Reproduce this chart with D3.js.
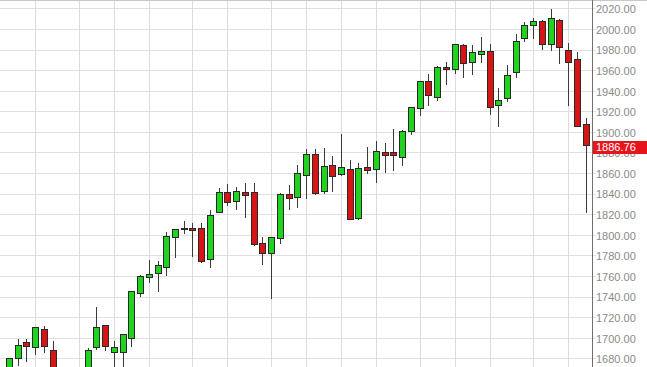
<!DOCTYPE html>
<html>
<head>
<meta charset="utf-8">
<script src="https://cdn.jsdelivr.net/npm/d3@7"></script>
<style>
  html, body { margin: 0; padding: 0; background: #fff; }
  svg { display: block; font-family: Arial, "Liberation Sans", sans-serif; }
</style>
</head>
<body>
<div id="chart"></div>
<script>
// weekly candles, week ending dates
const weeks = [
  '2013-07-12','2013-07-19','2013-07-26','2013-08-02','2013-08-09','2013-08-16','2013-08-23','2013-08-30',
  '2013-09-06','2013-09-13','2013-09-20','2013-09-27','2013-10-04','2013-10-11','2013-10-18','2013-10-25',
  '2013-11-01','2013-11-08','2013-11-15','2013-11-22','2013-11-29','2013-12-06','2013-12-13','2013-12-20',
  '2013-12-27','2014-01-03','2014-01-10','2014-01-17','2014-01-24','2014-01-31','2014-02-07','2014-02-14',
  '2014-02-21','2014-02-28','2014-03-07','2014-03-14','2014-03-21','2014-03-28','2014-04-04','2014-04-11',
  '2014-04-17','2014-04-25','2014-05-02','2014-05-09','2014-05-16','2014-05-23','2014-05-30','2014-06-06',
  '2014-06-13','2014-06-20','2014-06-27','2014-07-03','2014-07-11','2014-07-18','2014-07-25','2014-08-01',
  '2014-08-08','2014-08-15','2014-08-22','2014-08-29','2014-09-05','2014-09-12','2014-09-19','2014-09-26',
  '2014-10-03','2014-10-10','2014-10-17'
];
const opens = [
  1634, 1679.6, 1695, 1690, 1708, 1688, 1655, 1664, 1635, 1656.9, 1690.3, 1712, 1686, 1686, 1699, 1743.2,
  1758.3, 1762.6, 1768.4, 1797.2, 1804.8, 1806.5, 1806.3, 1776.2, 1822, 1841.3, 1832, 1841, 1841.3, 1791.1,
  1782, 1796.5, 1839.3, 1835.8, 1857.5, 1878.2, 1842, 1867.7, 1858.5, 1863.8, 1816, 1865.6, 1863.2, 1879.7,
  1880, 1875.5, 1900.4, 1922.5, 1948.8, 1933.2, 1962.8, 1960.3, 1984.4, 1967.8, 1975.6, 1978.2, 1925.6,
  1932.3, 1957.8, 1990.5, 2003.5, 2007.6, 1985.4, 2008.7, 1978.9, 1970.6, 1907
];
const highs = [
  1680.2, 1698.8, 1699, 1709.9, 1711, 1697, 1669.5, 1669.5, 1664.8, 1690, 1730, 1712.4, 1697, 1703.4, 1745.3, 1761,
  1775.2, 1774.5, 1802.3, 1806, 1813.6, 1811, 1811.9, 1824, 1845, 1849.7, 1846.7, 1850.7, 1850, 1798.2,
  1797.5, 1841, 1848, 1867.9, 1883.8, 1883, 1884, 1876.2, 1897.5, 1872.8, 1869.8, 1884.9, 1891.3, 1889,
  1902.4, 1901.5, 1924, 1949.5, 1956, 1964, 1968.2, 1985.6, 1985.6, 1984.2, 1992, 1985, 1943,
  1964.8, 1995, 2006.5, 2010.6, 2008.5, 2019.3, 2009.3, 1986, 1977.8, 1913.3
];
const lows = [
  1632, 1672.5, 1676, 1683, 1685, 1654, 1646, 1627, 1633, 1656.9, 1688, 1687.4, 1670, 1646.5, 1691.3, 1739.8,
  1752.8, 1744.7, 1760.3, 1777.2, 1801, 1778.6, 1772.3, 1767.5, 1821, 1828, 1824, 1816, 1789.5, 1770.4,
  1737.9, 1791.5, 1823.8, 1825.9, 1834.5, 1838.8, 1840, 1842, 1856.7, 1814.4, 1814.2, 1859.5, 1850.3, 1859.8,
  1861.8, 1867.3, 1897, 1915.8, 1925.4, 1930.5, 1945.2, 1956, 1952.3, 1955.3, 1966.9, 1916.4, 1904.6,
  1928.6, 1952, 1987.8, 1990, 1979.8, 1978.2, 1965.9, 1925.5, 1904.8, 1821.5
];
const closes = [
  1680.2, 1692.1, 1691.7, 1709.7, 1691.4, 1655.8, 1663.5, 1633, 1655.2, 1688, 1709.9, 1691.8, 1690.5, 1703.2, 1744.5, 1759.3,
  1761.6, 1770.6, 1798.2, 1804.8, 1805.8, 1804, 1774.5, 1818.3, 1841.4, 1831.4, 1842.4, 1838.4, 1790.3, 1782,
  1797, 1839.5, 1835.5, 1859.5, 1878, 1840, 1866.5, 1857, 1865.3, 1815.2, 1864.7, 1862.5, 1881.2, 1877.2,
  1877.3, 1900.7, 1923.7, 1949.4, 1935.5, 1962.8, 1960.2, 1985.4, 1966.3, 1977.5, 1978.1, 1924, 1931,
  1954.8, 1988, 2003.6, 2007.6, 1984.5, 2010.2, 1982.5, 1967.8, 1905.5, 1886.76
];
const yTicks = [1680, 1700, 1720, 1740, 1760, 1780, 1800, 1820, 1840, 1860, 1880, 1900,
  1920, 1940, 1960, 1980, 2000, 2020];

const W = 647, H = 367;
const axisX = 592;
const bodyW = 6;
const upColor = '#1fd31f', downColor = '#d81414';

const candles = weeks.map((w, i) => ({
  date: d3.timeParse('%Y-%m-%d')(w),
  o: opens[i], h: highs[i], l: lows[i], c: closes[i]
}));

const x = d3.scalePoint().domain(weeks).range([9, 585.6]);
const y = d3.scaleLinear().domain([1671.5, 2028.2]).range([H, 0]);

const svg = d3.select('#chart').append('svg')
  .attr('width', W).attr('height', H)
  .attr('viewBox', `0 0 ${W} ${H}`);

// grid: horizontal at each price tick
svg.append('g').selectAll('line')
  .data(yTicks)
  .enter().append('line')
  .attr('x1', 0).attr('x2', axisX + 4)
  .attr('y1', d => Math.round(y(d)) + 0.5)
  .attr('y2', d => Math.round(y(d)) + 0.5)
  .attr('stroke', '#e1e1e1')
  .attr('stroke-width', 1);

// grid: vertical at first candle of each month
const monthStarts = candles.filter((d, i) => i > 0 && d.date.getMonth() !== candles[i - 1].date.getMonth());
svg.append('g').selectAll('line')
  .data(monthStarts)
  .enter().append('line')
  .attr('x1', d => Math.round(x(d3.timeFormat('%Y-%m-%d')(d.date))) + 0.5)
  .attr('x2', d => Math.round(x(d3.timeFormat('%Y-%m-%d')(d.date))) + 0.5)
  .attr('y1', 0).attr('y2', H)
  .attr('stroke', '#dcdcdc')
  .attr('stroke-width', 1);

// top border
svg.append('line')
  .attr('x1', 0).attr('x2', W).attr('y1', 0.5).attr('y2', 0.5)
  .attr('stroke', '#c8c8c8');

// candles
const cg = svg.append('g').attr('shape-rendering', 'crispEdges');
const fmt = d3.timeFormat('%Y-%m-%d');

cg.selectAll('.wick')
  .data(candles)
  .enter().append('line')
  .attr('class', 'wick')
  .attr('x1', d => Math.round(x(fmt(d.date))) + 0.5)
  .attr('x2', d => Math.round(x(fmt(d.date))) + 0.5)
  .attr('y1', d => y(d.h))
  .attr('y2', d => y(d.l))
  .attr('stroke', '#3a3a3a');

cg.selectAll('.body')
  .data(candles)
  .enter().append('rect')
  .attr('class', 'body')
  .attr('x', d => Math.round(x(fmt(d.date))) - bodyW / 2 + 0.5)
  .attr('y', d => y(Math.max(d.o, d.c)))
  .attr('width', bodyW)
  .attr('height', d => Math.max(1, Math.abs(y(d.o) - y(d.c))))
  .attr('fill', d => d.c >= d.o ? upColor : downColor)
  .attr('stroke', '#2a2a2a')
  .attr('stroke-width', 1);

// right axis
svg.append('line')
  .attr('x1', axisX + 0.5).attr('x2', axisX + 0.5)
  .attr('y1', 0).attr('y2', H)
  .attr('stroke', '#6e6e6e');

svg.append('g').selectAll('text')
  .data(yTicks)
  .enter().append('text')
  .attr('x', axisX + 4)
  .attr('y', d => y(d) + 1)
  .attr('dy', '0.35em')
  .attr('font-size', 11)
  .attr('fill', '#8a8a8a')
  .text(d => d3.format('.2f')(d));

// last price tag
const last = closes[closes.length - 1];
svg.append('rect')
  .attr('x', axisX + 1).attr('y', Math.round(y(last)) - 5)
  .attr('width', W - axisX - 1).attr('height', 13)
  .attr('fill', '#e8141b');
svg.append('text')
  .attr('x', axisX + 4)
  .attr('y', y(last) + 1.5)
  .attr('dy', '0.35em')
  .attr('font-size', 11)
  .attr('fill', '#fff')
  .text(d3.format('.2f')(last));
</script>
</body>
</html>
